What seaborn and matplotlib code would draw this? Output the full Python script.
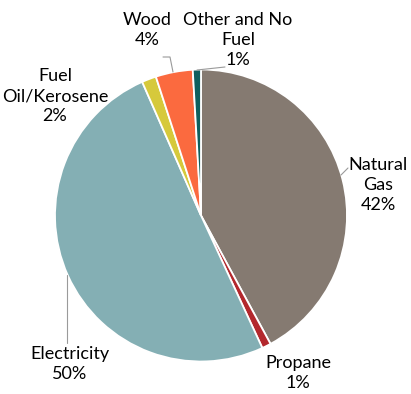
import matplotlib
matplotlib.use("Agg")
import matplotlib.pyplot as plt
import seaborn as sns

# Heating fuel share (%), clockwise from 12 o'clock
fuels = ["Natural\nGas", "Propane", "Electricity", "Fuel\nOil/Kerosene", "Wood", "Other and No\nFuel"]
shares = [42.1, 1.0, 50.3, 1.6, 4.1, 0.9]
colors = ["#857a71", "#b3282d", "#84afb4", "#d6c93b", "#fb6a3f", "#0e5f5e"]

sns.set_theme(style="white")
plt.rcParams["font.family"] = ["Lato", "DejaVu Sans"]

fig = plt.figure(figsize=(4.11, 3.94), dpi=100)
ax = fig.add_axes([0, 0, 1, 1])

# work in pixel-like units, y up
cx, cy, r = 201, 394 - 215.5, 146
ax.pie(shares, colors=colors, startangle=90, counterclock=False,
       center=(cx, cy), radius=r,
       wedgeprops=dict(edgecolor="white", linewidth=1.3))
ax.set_xlim(0, 411)
ax.set_ylim(0, 394)
ax.set_aspect("equal")
ax.axis("off")

# label placement (pixel x, pixel y of block centre)
label_pos = [(378, 185), (298, 373), (70, 364), (55, 96), (147, 30), (238, 40)]
for name, val, (lx, ly) in zip(fuels, shares, label_pos):
    ax.text(lx, 394 - ly, f"{name}\n{round(val)}%", ha="center", va="center",
            fontsize=13, color="#000000", linespacing=1.3)

# leader lines
lc = dict(color="#9a9a9a", lw=0.8)
ax.plot([67, 67], [394 - 275, 394 - 343], **lc)
ax.plot([341, 348], [394 - 175, 394 - 168], **lc)
ax.plot([163, 170, 173], [394 - 57, 394 - 57, 394 - 72], **lc)
ax.plot([197, 225], [394 - 70, 394 - 67], **lc)

fig.savefig("out.png", dpi=100)
